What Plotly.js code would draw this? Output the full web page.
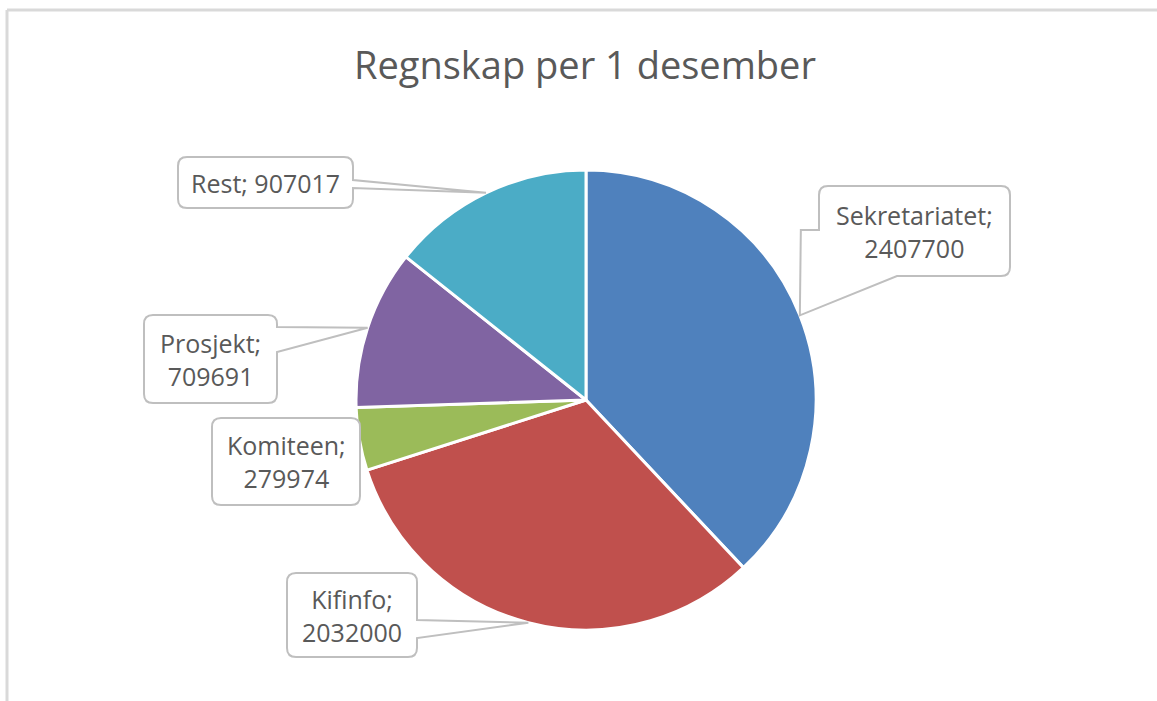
<!DOCTYPE html>
<html>
<head>
<meta charset="utf-8">
<script src="https://cdn.plot.ly/plotly-3.0.1.min.js"></script>
<style>html,body{margin:0;padding:0;background:#fff;}#chart{width:1157px;height:701px;}</style>
</head>
<body>
<div id="chart"></div>
<script>
// ---- data ----
const categories = ["Sekretariatet", "Kifinfo", "Komiteen", "Prosjekt", "Rest"];
const values = [2407700, 2032000, 279974, 709691, 907017];
const sliceColors = ["#4F81BD", "#C0504D", "#9BBB59", "#8064A2", "#4BACC6"];
const chartTitle = "Regnskap per 1 desember";

// ---- layout (pixels) ----
const W = 1157, H = 701;
const pieBox = {x0: 356, x1: 816, y0: 170, y1: 630};
// callout boxes: px rect + which side carries the wedge
const labelBoxes = [
  {x0: 819, y0: 186, x1: 1010, y1: 276, side: "bl", w1: 897, w2: 230, lines: 2},
  {x0: 287, y0: 573, x1: 417, y1: 657, side: "right", w1: 620, w2: 638, lines: 2},
  {x0: 212, y0: 418, x1: 360, y1: 505, side: "none", lines: 2},
  {x0: 144, y0: 315, x1: 277, y1: 403, side: "right", w1: 327, w2: 352, lines: 2},
  {x0: 178, y0: 157, x1: 353, y1: 208, side: "right", w1: 180, w2: 188, lines: 1}
];

const X = px => px / W;
const Y = py => 1 - py / H;
const P = (x, y) => X(x).toFixed(5) + "," + Y(y).toFixed(5);

const cx = (pieBox.x0 + pieBox.x1) / 2, cy = (pieBox.y0 + pieBox.y1) / 2;
const R = (pieBox.x1 - pieBox.x0) / 2;
const total = values.reduce((a, b) => a + b, 0);
let cum = 0;
const tips = values.map(v => {
  const th = 2 * Math.PI * (cum + v / 2) / total;
  cum += v;
  return {x: cx + R * Math.sin(th), y: cy - R * Math.cos(th)};
});

function calloutPath(b, t) {
  const r = 9;
  const {x0, y0, x1, y1} = b;
  let p = "M" + P(x0 + r, y0);
  p += " L" + P(x1 - r, y0) + " Q" + P(x1, y0) + " " + P(x1, y0 + r);
  if (b.side === "right") p += " L" + P(x1, b.w1) + " L" + P(t.x, t.y) + " L" + P(x1, b.w2);
  p += " L" + P(x1, y1 - r) + " Q" + P(x1, y1) + " " + P(x1 - r, y1);
  if (b.side === "bl") {
    p += " L" + P(b.w1, y1) + " L" + P(t.x, t.y) + " L" + P(t.x + 1, b.w2) + " L" + P(x0, b.w2);
  } else {
    p += " L" + P(x0 + r, y1) + " Q" + P(x0, y1) + " " + P(x0, y1 - r);
  }
  p += " L" + P(x0, y0 + r) + " Q" + P(x0, y0) + " " + P(x0 + r, y0) + " Z";
  return p;
}

const shapes = [
  {type: "line", xref: "paper", yref: "paper", x0: X(7), x1: 1, y0: Y(10), y1: Y(10), line: {color: "#d9d9d9", width: 3}},
  {type: "line", xref: "paper", yref: "paper", x0: X(7), x1: X(7), y0: Y(10), y1: 0, line: {color: "#d9d9d9", width: 3}}
];
const annotations = [];
labelBoxes.forEach((b, i) => {
  shapes.push({type: "path", xref: "paper", yref: "paper", path: calloutPath(b, tips[i]),
    fillcolor: "#ffffff", line: {color: "#bfbfbf", width: 2}, layer: "above"});
  const sep = b.lines === 2 ? ";<br>" : "; ";
  annotations.push({xref: "paper", yref: "paper", x: X((b.x0 + b.x1) / 2), y: Y((b.y0 + b.y1) / 2),
    xanchor: "center", yanchor: "middle", showarrow: false,
    text: categories[i] + sep + values[i],
    font: {family: "Open Sans, sans-serif", size: 25, color: "#595959"}});
});

const data = [{
  type: "pie",
  labels: categories,
  values: values,
  sort: false,
  direction: "clockwise",
  rotation: 0,
  marker: {colors: sliceColors, line: {color: "#ffffff", width: 3}},
  textinfo: "none",
  hoverinfo: "label+value",
  domain: {x: [X(pieBox.x0), X(pieBox.x1)], y: [Y(pieBox.y1), Y(pieBox.y0)]},
  showlegend: false
}];

const layout = {
  width: W, height: H,
  margin: {l: 0, r: 0, t: 0, b: 0},
  paper_bgcolor: "#ffffff",
  title: {text: chartTitle, x: X(585), xanchor: "center", y: Y(66), yanchor: "middle", yref: "container",
    font: {family: "Open Sans, sans-serif", size: 38, color: "#595959"}},
  shapes: shapes,
  annotations: annotations,
  showlegend: false
};

Plotly.newPlot("chart", data, layout, {displayModeBar: false, staticPlot: true});
</script>
</body>
</html>
